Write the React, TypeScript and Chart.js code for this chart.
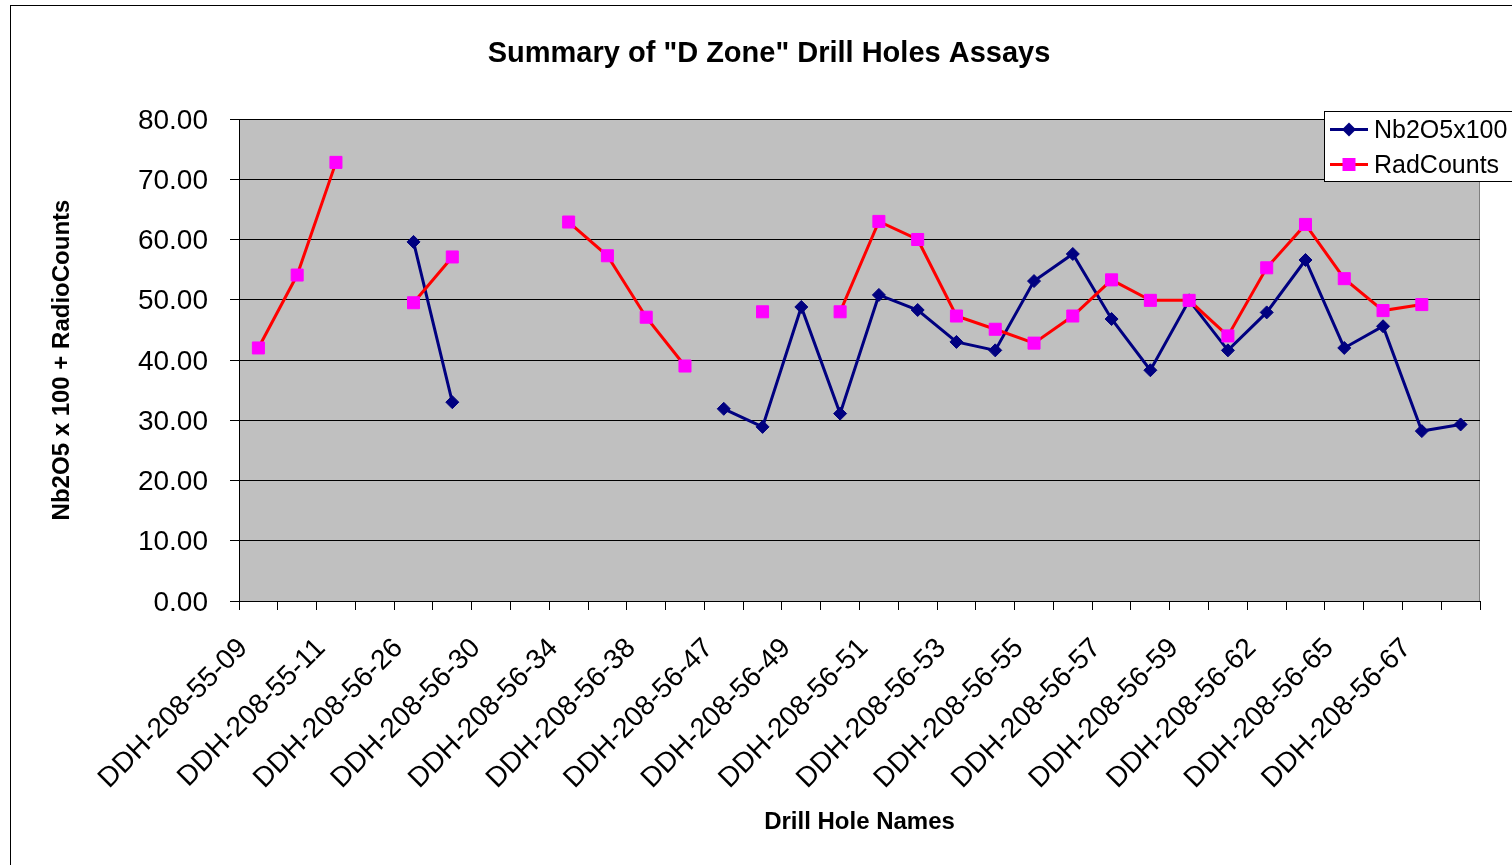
import React, { useEffect, useRef } from "react";
import { Chart, registerables } from "chart.js";

Chart.register(...registerables);

const FONT = "'Liberation Sans', Arial, Helvetica, sans-serif";

const chartTitle = 'Summary of "D Zone" Drill Holes Assays';
const yAxisTitle = "Nb2O5 x 100 + RadioCounts";
const xAxisTitle = "Drill Hole Names";
const seriesNames = ["Nb2O5x100", "RadCounts"];

const holeNames = [
  "DDH-208-55-09", "DDH-208-55-10", "DDH-208-55-11", "DDH-208-55-12",
  "DDH-208-56-26", "DDH-208-56-28", "DDH-208-56-30", "DDH-208-56-32",
  "DDH-208-56-34", "DDH-208-56-36", "DDH-208-56-38", "DDH-208-56-40",
  "DDH-208-56-47", "DDH-208-56-48", "DDH-208-56-49", "DDH-208-56-50",
  "DDH-208-56-51", "DDH-208-56-52", "DDH-208-56-53", "DDH-208-56-54",
  "DDH-208-56-55", "DDH-208-56-56", "DDH-208-56-57", "DDH-208-56-58",
  "DDH-208-56-59", "DDH-208-56-60", "DDH-208-56-62", "DDH-208-56-63",
  "DDH-208-56-65", "DDH-208-56-66", "DDH-208-56-67", "DDH-208-56-68",
];

const nb2o5x100: (number | null)[] = [
  null, null, null, null, 59.6, 33.0, null, null,
  null, null, null, null, 31.9, 28.9, 48.8, 31.1,
  50.8, 48.3, 43.0, 41.6, 53.1, 57.6, 46.8, 38.3,
  49.9, 41.6, 47.9, 56.6, 42.0, 45.6, 28.2, 29.3,
];

const radCounts: (number | null)[] = [
  42.0, 54.1, 72.8, null, 49.5, 57.1, null, null,
  62.9, 57.3, 47.1, 39.0, null, 48.0, null, 48.0,
  63.0, 60.0, 47.3, 45.1, 42.8, 47.3, 53.3, 49.9,
  49.9, 44.0, 55.3, 62.5, 53.5, 48.2, 49.2, null,
];

const yMin = 0;
const yMax = 80;
const yStep = 10;

const NAVY = "#000080";
const RED = "#FF0000";
const MAGENTA = "#FF00FF";

export default function App() {
  const canvasRef = useRef<HTMLCanvasElement>(null);

  useEffect(() => {
    const canvas = canvasRef.current;
    if (!canvas) return;

    const decor = {
      id: "decor",
      beforeDraw(chart: any) {
        const { ctx, chartArea: a } = chart;
        ctx.save();
        ctx.fillStyle = "#FFFFFF";
        ctx.fillRect(0, 0, chart.width, chart.height);
        ctx.strokeStyle = "#000000";
        ctx.lineWidth = 1;
        ctx.strokeRect(10.5, 5.5, 3000, 3000);
        ctx.fillStyle = "#C0C0C0";
        ctx.fillRect(a.left, a.top, a.right - a.left, a.bottom - a.top);
        ctx.strokeStyle = "#808080";
        ctx.beginPath();
        ctx.moveTo(Math.round(a.right) - 0.5, a.top);
        ctx.lineTo(Math.round(a.right) - 0.5, a.bottom);
        ctx.stroke();
        // chart title
        ctx.fillStyle = "#000000";
        ctx.font = `bold 29px ${FONT}`;
        ctx.textAlign = "center";
        ctx.textBaseline = "middle";
        ctx.fillText(chartTitle, 769, 54);
        ctx.restore();
      },
      afterDraw(chart: any) {
        const { ctx } = chart;
        ctx.save();
        ctx.fillStyle = "#FFFFFF";
        ctx.fillRect(1324.5, 111.5, 400, 70);
        ctx.strokeStyle = "#000000";
        ctx.lineWidth = 1;
        ctx.strokeRect(1324.5, 111.5, 400, 70);
        const entries = [
          { name: seriesNames[0], line: NAVY, fill: NAVY, y: 129.5, shape: "diamond" },
          { name: seriesNames[1], line: RED, fill: MAGENTA, y: 164.5, shape: "square" },
        ];
        ctx.font = `25px ${FONT}`;
        ctx.textBaseline = "middle";
        ctx.textAlign = "left";
        for (const e of entries) {
          ctx.strokeStyle = e.line;
          ctx.lineWidth = 3;
          ctx.beginPath();
          ctx.moveTo(1330, e.y);
          ctx.lineTo(1368, e.y);
          ctx.stroke();
          ctx.fillStyle = e.fill;
          ctx.beginPath();
          if (e.shape === "diamond") {
            ctx.moveTo(1349 - 7, e.y);
            ctx.lineTo(1349, e.y - 7);
            ctx.lineTo(1349 + 7, e.y);
            ctx.lineTo(1349, e.y + 7);
            ctx.closePath();
          } else {
            ctx.rect(1349 - 6.5, e.y - 6.5, 13, 13);
          }
          ctx.fill();
          ctx.fillStyle = "#000000";
          ctx.fillText(e.name, 1374, e.y + 2);
        }
        ctx.restore();
      },
    };

    const chart = new Chart(canvas, {
      type: "line",
      data: {
        labels: holeNames,
        datasets: [
          {
            label: seriesNames[0],
            data: nb2o5x100,
            borderColor: NAVY,
            backgroundColor: NAVY,
            borderWidth: 3,
            pointStyle: "rectRot",
            pointRadius: 6.5,
            pointBorderWidth: 1,
            pointBorderColor: NAVY,
            pointBackgroundColor: NAVY,
            spanGaps: false,
            tension: 0,
            order: 1,
          },
          {
            label: seriesNames[1],
            data: radCounts,
            borderColor: RED,
            backgroundColor: MAGENTA,
            borderWidth: 3,
            pointStyle: "rect",
            pointRadius: 8.5,
            pointBorderWidth: 1,
            pointBorderColor: MAGENTA,
            pointBackgroundColor: MAGENTA,
            spanGaps: false,
            tension: 0,
            order: 0,
          },
        ],
      },
      options: {
        responsive: false,
        animation: false,
        devicePixelRatio: 1,
        events: [],
        layout: { padding: { left: 0, right: 32, top: 119, bottom: 0 } },
        plugins: {
          legend: { display: false },
          tooltip: { enabled: false },
          title: { display: false },
        },
        scales: {
          x: {
            type: "category",
            offset: true,
            grid: {
              display: true,
              drawOnChartArea: false,
              drawTicks: true,
              tickLength: 9,
              offset: true,
              color: "#000",
              lineWidth: 1,
            },
            border: { display: true, color: "#000", width: 1 },
            ticks: {
              autoSkip: false,
              maxRotation: 45,
              minRotation: 45,
              color: "#000",
              padding: 22,
              labelOffset: -15,
              font: { family: FONT, size: 28 },
              callback: function (this: any, value: any, index: number) {
                return index % 2 === 0 ? this.getLabelForValue(value) : "";
              },
            },
            title: {
              display: true,
              text: xAxisTitle,
              color: "#000",
              font: { family: FONT, size: 24, weight: "bold" },
              padding: { top: 0, bottom: 28 },
            },
            afterFit(scale: any) {
              scale.height = 264;
            },
          },
          y: {
            min: yMin,
            max: yMax,
            grid: { color: "#000", lineWidth: 1, tickLength: 9 },
            border: { display: true, color: "#000", width: 1 },
            ticks: {
              stepSize: yStep,
              color: "#000",
              padding: 22,
              labelOffset: 2,
              font: { family: FONT, size: 28 },
              callback: (v: any) => Number(v).toFixed(2),
            },
            title: {
              display: true,
              text: yAxisTitle,
              color: "#000",
              font: { family: FONT, size: 24, weight: "bold" },
              padding: { top: 48, bottom: 0 },
            },
            afterFit(scale: any) {
              scale.width = 239;
            },
          },
        },
      },
      plugins: [decor],
    } as any);

    return () => chart.destroy();
  }, []);

  return (
    <div style={{ position: "absolute", left: 0, top: 0, width: 1512, height: 865 }}>
      <canvas ref={canvasRef} width={1512} height={865} style={{ display: "block" }} />
    </div>
  );
}
